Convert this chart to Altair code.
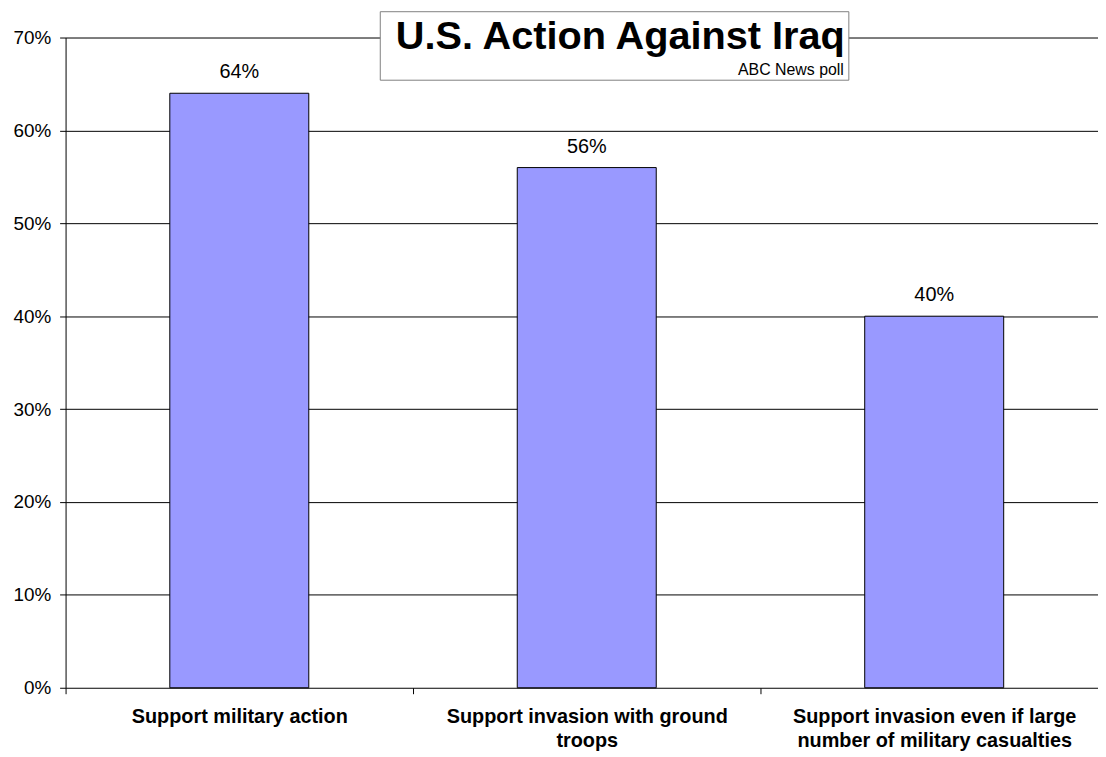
import altair as alt
import pandas as pd

categories = [
    "Support military action",
    "Support invasion with ground|troops",
    "Support invasion even if large|number of military casualties",
]
values = [64, 56, 40]
value_labels = ["64%", "56%", "40%"]
y_ticks = [0, 10, 20, 30, 40, 50, 60, 70]
y_max = [70]
title_text = "U.S. Action Against Iraq"
subtitle_text = "ABC News poll"

FONT = "Liberation Sans, Arial, sans-serif"

df = pd.DataFrame({"category": categories, "value": values, "label": value_labels})

x = alt.X(
    "category:N",
    sort=categories,
    scale=alt.Scale(range=[0, 1050], paddingInner=0.6, paddingOuter=0.3),
    axis=alt.Axis(
        title=None,
        labelAngle=0,
        labelExpr="split(datum.label, '|')",
        labelFont=FONT,
        labelFontSize=20,
        labelFontWeight="bold",
        labelColor="black",
        labelLineHeight=24,
        labelPadding=13,
        labelLimit=0,
        tickOffset=-175,
        labelOffset=175,
        tickColor="black",
        tickSize=6,
        domain=False,
        grid=False,
    ),
)
y = alt.Y(
    "value:Q",
    scale=alt.Scale(domain=[0, 70], nice=False),
    axis=alt.Axis(
        title=None,
        values=y_ticks,
        labelExpr="datum.value + '%'",
        labelFont=FONT,
        labelFontSize=19,
        labelColor="black",
        labelPadding=9,
        tickColor="black",
        tickSize=6,
        domainColor="black",
        gridColor="black",
        gridOpacity=1,
    ),
)

base = alt.Chart(df)
bars = base.mark_bar(color="#9999FF", stroke="black", strokeWidth=1).encode(x=x, y=y)
texts = base.mark_text(dy=-15, baseline="alphabetic", fontSize=20, font=FONT, color="black").encode(
    x=x, y=y, text="label:N"
)
top_rule = alt.Chart(pd.DataFrame({"v": y_max})).mark_rule(color="#808080", strokeWidth=1).encode(y="v:Q")

box = alt.Chart(pd.DataFrame({"t": [0]})).mark_rect(fill="white", stroke="#808080", strokeWidth=1).encode(
    x=alt.value(317), x2=alt.value(789), y=alt.value(-26), y2=alt.value(43)
)
title = alt.Chart(pd.DataFrame({"t": [title_text]})).mark_text(
    align="right", baseline="alphabetic", fontSize=40, fontWeight="bold", font=FONT, color="black"
).encode(x=alt.value(785), y=alt.value(12), text="t:N")
subtitle = alt.Chart(pd.DataFrame({"t": [subtitle_text]})).mark_text(
    align="right", baseline="alphabetic", fontSize=16, font=FONT, color="black"
).encode(x=alt.value(784), y=alt.value(38), text="t:N")

chart = (
    alt.layer(bars, texts, top_rule, box, title, subtitle)
    .properties(
        width=1040,
        height=655,
        autosize=alt.AutoSizeParams(type="none"),
        padding={"left": 58, "top": 27, "right": 0, "bottom": 66},
        background="white",
    )
    .configure_view(stroke=None)
)

chart.save("out.html", embed_options={"renderer": "svg", "actions": False})
